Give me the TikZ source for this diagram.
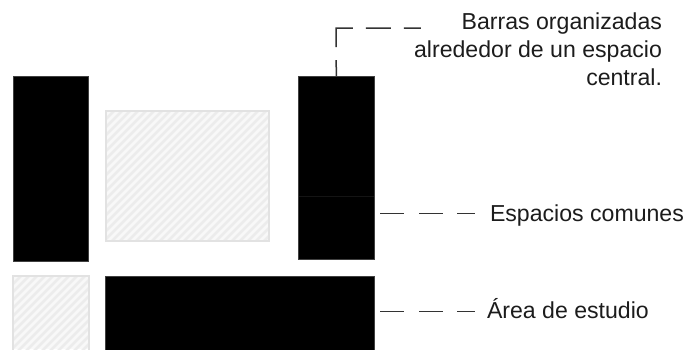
\documentclass[tikz,border=0pt]{standalone}
\usepackage{fontspec}
\setmainfont{Liberation Sans}
\tikzset{
  solidbox/.style={fill=black,draw=black!75,line width=0.4pt,inner sep=0pt,outer sep=0pt,minimum width=#1},
  hatchbox/.style={draw=hatchedge,line width=1.1pt,inner sep=0pt,outer sep=0pt},
  stripe/.style={draw=hatchline,line width=2.6pt},
  leader/.style={draw=leadcol,line width=1.5pt},
  lab/.style={text=labcol,inner sep=0pt,outer sep=0pt,font=\fontsize{23.1}{27.6}\selectfont}
}
\definecolor{hatchedge}{HTML}{E2E2E2}
\definecolor{hatchline}{HTML}{ECECEC}
\definecolor{hatchbg}{HTML}{F8F8F8}
\definecolor{leadcol}{HTML}{333333}
\definecolor{labcol}{HTML}{1C1C1C}
\begin{document}
\begin{tikzpicture}[x=1pt,y=-1pt]
\useasboundingbox (0,0) rectangle (687,349);
\clip (0,0) rectangle (687,349);
% solid bars
\node[solidbox=75.6pt,minimum height=184.6pt] (barL) at (50.8,168.5) {};
\node[solidbox=76.4pt,minimum height=182.6pt] (barR) at (336.3,167.5) {};
\node[solidbox=269.2pt,minimum height=77pt] (barB) at (239.8,314.5) {};
\draw[black!92,line width=0.5pt] (299,196) -- (374,196);
% hatched areas
\begin{scope}
  \clip (106,111) rectangle (269,241);
  \fill[hatchbg] (106,111) rectangle (269,241);
  \foreach \k in {0,8,...,320}{\draw[stripe] (106+\k-140,251) -- (106+\k,111);}
\end{scope}
\node[hatchbox,minimum width=163pt,minimum height=130pt] (areaA) at (187.5,176) {};
\begin{scope}
  \clip (13,276) rectangle (89,349);
  \fill[hatchbg] (13,276) rectangle (89,349);
  \foreach \k in {0,8,...,160}{\draw[stripe] (13+\k-80,356) -- (13+\k,276);}
\end{scope}
\draw[hatchedge,line width=1.1pt] (13,352) -- (13,276) -- (89,276) -- (89,352);
% labels
\node[lab,anchor=base east,align=right] (lblBar) at (662,85) {Barras organizadas\\alrededor de un espacio\\central.};
\node[lab,anchor=base west] (lblCom) at (490,221) {Espacios comunes};
\node[lab,anchor=base west] (lblEst) at (487,318) {Área de estudio};
% leaders
\coordinate (cornerT) at (336,28);
\coordinate (endT) at (421,28);
\coordinate (startC) at (380,213.5);
\coordinate (endC) at (475,213.5);
\coordinate (startE) at (380,311.5);
\coordinate (endE) at (475,311.5);
\draw[leader,dash pattern=on 16pt off 13pt on 36pt off 13pt on 25pt off 13pt on 17pt] (barR.north) -- (cornerT) -- (endT);
\draw[leader,dash pattern=on 24pt off 15pt on 24pt off 14pt on 18pt] (startC) -- (endC);
\draw[leader,dash pattern=on 24pt off 15pt on 24pt off 14pt on 18pt] (startE) -- (endE);
\end{tikzpicture}
\end{document}
